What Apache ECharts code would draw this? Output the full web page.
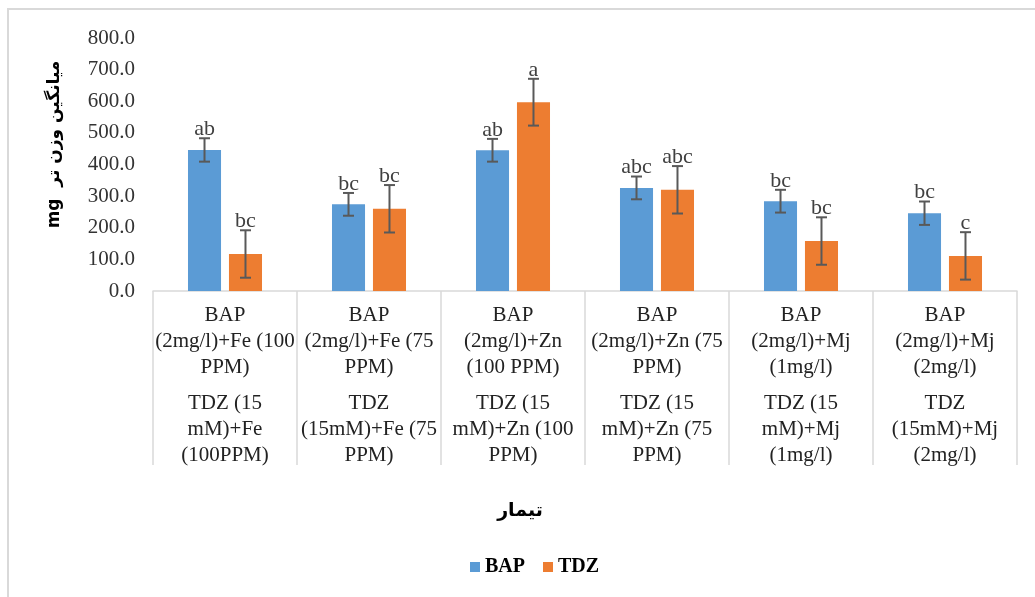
<!DOCTYPE html>
<html>
<head>
<meta charset="utf-8">
<script src="https://cdn.jsdelivr.net/npm/echarts@6/dist/echarts.min.js"></script>
<style>
  html, body { margin: 0; padding: 0; background: #fff; }
  #chart { width: 1035px; height: 597px; }
</style>
</head>
<body>
<div id="chart"></div>
<script>
// ---- data ----
const bapLabels = ['BAP\n(2mg/l)+Fe (100\nPPM)', 'BAP\n(2mg/l)+Fe (75\nPPM)', 'BAP\n(2mg/l)+Zn\n(100 PPM)', 'BAP\n(2mg/l)+Zn (75\nPPM)', 'BAP\n(2mg/l)+Mj\n(1mg/l)', 'BAP\n(2mg/l)+Mj\n(2mg/l)'];
const tdzLabels = ['TDZ (15\nmM)+Fe\n(100PPM)', 'TDZ\n(15mM)+Fe (75\nPPM)', 'TDZ (15\nmM)+Zn (100\nPPM)', 'TDZ (15\nmM)+Zn (75\nPPM)', 'TDZ (15\nmM)+Mj\n(1mg/l)', 'TDZ\n(15mM)+Mj\n(2mg/l)'];
const bapMeans = [446, 274, 445, 326, 284, 246];
const bapErr = [37, 36, 36, 36, 36, 37];
const tdzMeans = [117, 260, 597, 320, 158, 111];
const tdzErr = [75, 75, 74, 75, 75, 75];
const bapLetters = ['ab', 'bc', 'ab', 'abc', 'bc', 'bc'];
const tdzLetters = ['bc', 'bc', 'a', 'abc', 'bc', 'c'];
const yTicks = { min: 0, max: 800, interval: 100 };

// ---- build ----
const categories = bapLabels.map((b, i) => i);
const catGap = 0.486, barGapRatio = 0.24;
const serif = '"Liberation Serif", "Times New Roman", serif';

function errSeries(name, means, errs, letters, side) {
  return {
    type: 'custom',
    z: 10,
    data: means.map((m, i) => [i, m, errs[i]]),
    renderItem: function (params, api) {
      const i = api.value(0), m = api.value(1), e = api.value(2);
      const band = api.size([1, 0])[0];
      const barW = band * (1 - catGap) / (2 + barGapRatio);
      const off = side * barW * (1 + barGapRatio) / 2;
      const pTop = api.coord([i, m + e]);
      const pBot = api.coord([i, m - e]);
      const x = pTop[0] + off;
      const cap = 5.5;
      const st = { stroke: '#595959', lineWidth: 2 };
      return {
        type: 'group',
        children: [
          { type: 'line', shape: { x1: x, y1: pTop[1], x2: x, y2: pBot[1] }, style: st },
          { type: 'line', shape: { x1: x - cap, y1: pTop[1], x2: x + cap, y2: pTop[1] }, style: st },
          { type: 'line', shape: { x1: x - cap, y1: pBot[1], x2: x + cap, y2: pBot[1] }, style: st },
          { type: 'text', style: { text: letters[params.dataIndex], x: x, y: pTop[1] + 2, align: 'center', verticalAlign: 'bottom', font: '22px ' + serif, fill: '#404040' } }
        ]
      };
    }
  };
}

const chart = echarts.init(document.getElementById('chart'), null, { renderer: 'canvas' });
chart.setOption({
  animation: false,
  backgroundColor: '#fff',
  graphic: [{
    type: 'rect', shape: { x: 8, y: 9, width: 1200, height: 800 },
    style: { fill: 'none', stroke: '#d9d9d9', lineWidth: 2 }, silent: true
  }],
  grid: { left: 153, right: 18, top: 38, bottom: 306, containLabel: false },
  legend: {
    data: ['BAP', 'TDZ'],
    bottom: 15,
    left: 465,
    icon: 'rect',
    itemWidth: 10, itemHeight: 10, itemGap: 18,
    textStyle: { fontFamily: serif, fontWeight: 'bold', fontSize: 20, color: '#000' }
  },
  xAxis: {
    type: 'category',
    data: categories,
    name: 'تیمار',
    nameLocation: 'middle',
    nameGap: 211,
    nameTextStyle: { fontFamily: '"DejaVu Sans", sans-serif', fontWeight: 'bold', fontSize: 19, color: '#000', padding: [0, 130, 0, 0] },
    axisLine: { lineStyle: { color: '#d9d9d9', width: 1.5 } },
    axisTick: { show: true, length: 174, interval: 0, lineStyle: { color: '#d9d9d9', width: 1.5 } },
    axisLabel: {
      interval: 0,
      margin: 11,
      formatter: function (v, idx) {
        const a = bapLabels[idx].split('\n').map(s => '{t|' + s + '}').join('\n');
        const b = tdzLabels[idx].split('\n').map(s => '{t|' + s + '}').join('\n');
        return a + '\n{s| }\n' + b;
      },
      rich: {
        t: { fontFamily: serif, fontSize: 21, lineHeight: 26, color: '#222' },
        s: { fontSize: 2, lineHeight: 10 }
      }
    }
  },
  yAxis: {
    type: 'value',
    min: yTicks.min, max: yTicks.max, interval: yTicks.interval,
    name: 'mg  میانگین وزن تر',
    nameLocation: 'middle',
    nameGap: 90,
    nameRotate: 90,
    nameTextStyle: { fontFamily: '"DejaVu Sans", sans-serif', fontWeight: 'bold', fontSize: 17, color: '#000', padding: [0, 0, 0, 40] },
    axisLine: { show: false },
    axisTick: { show: false },
    splitLine: { show: false },
    axisLabel: { margin: 18, formatter: v => v.toFixed(1), fontFamily: serif, fontSize: 21, color: '#333' }
  },
  series: [
    { name: 'BAP', type: 'bar', data: bapMeans, barCategoryGap: (catGap * 100) + '%', barGap: (barGapRatio * 100) + '%', itemStyle: { color: '#5b9bd5' } },
    { name: 'TDZ', type: 'bar', data: tdzMeans, barCategoryGap: (catGap * 100) + '%', barGap: (barGapRatio * 100) + '%', itemStyle: { color: '#ed7d31' } },
    errSeries('BAPerr', bapMeans, bapErr, bapLetters, -1),
    errSeries('TDZerr', tdzMeans, tdzErr, tdzLetters, 1)
  ]
});
</script>
</body>
</html>
